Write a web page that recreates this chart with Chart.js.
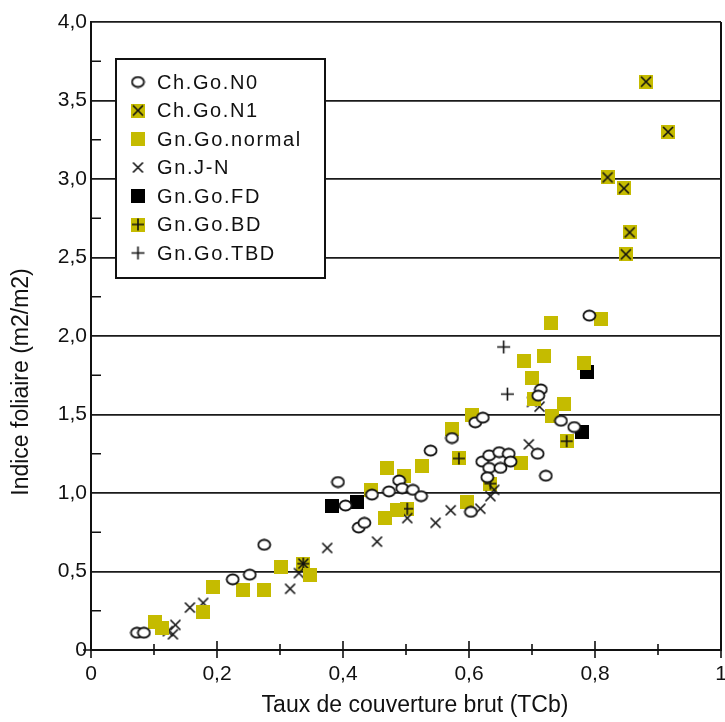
<!DOCTYPE html>
<html>
<head>
<meta charset="utf-8">
<script src="https://cdn.jsdelivr.net/npm/chart.js@4.4.0/dist/chart.umd.min.js"></script>
<style>
    html, body { margin: 0; padding: 0; background: #fff; }
</style>
</head>
<body>
<canvas id="chart" width="725" height="722"></canvas>
<script>
// Data: [TCb, indice foliaire]
const chGoN0 = [
    [0.073, 0.11], [0.084, 0.11],
    [0.225, 0.45], [0.252, 0.48], [0.275, 0.67],
    [0.392, 1.07], [0.404, 0.92], [0.425, 0.78], [0.434, 0.81],
    [0.446, 0.99], [0.473, 1.01], [0.489, 1.08], [0.494, 1.03], [0.511, 1.02], [0.524, 0.98],
    [0.539, 1.27], [0.573, 1.35], [0.610, 1.45], [0.622, 1.48], [0.603, 0.88],
    [0.621, 1.20], [0.632, 1.24], [0.648, 1.26], [0.663, 1.25], [0.632, 1.16],
    [0.650, 1.16], [0.666, 1.20], [0.629, 1.10],
    [0.709, 1.25], [0.722, 1.11], [0.714, 1.66], [0.710, 1.62],
    [0.746, 1.46], [0.767, 1.42], [0.791, 2.13]
];
const chGoN1 = [
    [0.881, 3.62], [0.916, 3.30], [0.820, 3.01], [0.846, 2.94], [0.855, 2.66], [0.849, 2.52]
];
const gnGoNormal = [
    [0.102, 0.18], [0.112, 0.14], [0.178, 0.24], [0.194, 0.40], [0.241, 0.38], [0.275, 0.38],
    [0.302, 0.53], [0.348, 0.48],
    [0.444, 1.02], [0.470, 1.16], [0.497, 1.11], [0.526, 1.17], [0.467, 0.84], [0.486, 0.89],
    [0.573, 1.41], [0.605, 1.50], [0.597, 0.94], [0.682, 1.19],
    [0.687, 1.84], [0.719, 1.87], [0.700, 1.73], [0.730, 2.08], [0.809, 2.11], [0.783, 1.83],
    [0.703, 1.60], [0.751, 1.57], [0.732, 1.49]
];
const gnJN = [
    [0.122, 0.12], [0.134, 0.16], [0.130, 0.10], [0.157, 0.27], [0.178, 0.30],
    [0.316, 0.39], [0.330, 0.49], [0.337, 0.55], [0.375, 0.65], [0.454, 0.69],
    [0.502, 0.84], [0.547, 0.81], [0.571, 0.89], [0.618, 0.90], [0.634, 0.98], [0.640, 1.02],
    [0.695, 1.31], [0.700, 1.58], [0.712, 1.55]
];
const gnGoFD = [[0.383, 0.92], [0.423, 0.94], [0.788, 1.77], [0.780, 1.39]];
const gnGoBD = [[0.337, 0.55], [0.502, 0.90], [0.584, 1.22], [0.634, 1.06], [0.755, 1.33]];
const gnGoTBD = [[0.655, 1.93], [0.661, 1.63]];

const seriesLabels = ['Ch.Go.N0', 'Ch.Go.N1', 'Gn.Go.normal', 'Gn.J-N', 'Gn.Go.FD', 'Gn.Go.BD', 'Gn.Go.TBD'];
const xTickLabels = ['0', '0,2', '0,4', '0,6', '0,8', '1'];
const yTickLabels = ['0', '0,5', '1,0', '1,5', '2,0', '2,5', '3,0', '3,5', '4,0'];
const xTitle = 'Taux de couverture brut (TCb)';
const yTitle = 'Indice foliaire (m2/m2)';

const YELLOW = '#c5bb00';
const INK = '#111';
const FONT = '"Liberation Sans", Arial, sans-serif';

// Marker glyphs drawn on small canvases
function symbol(w, h, draw) {
    const c = document.createElement('canvas');
    c.width = w;
    c.height = h;
    const g = c.getContext('2d');
    g.strokeStyle = INK;
    g.lineWidth = 1.6;
    draw(g, w, h);
    return c;
}
function cross(g, w, h, inset) {
    g.beginPath();
    g.moveTo(inset, inset); g.lineTo(w - inset, h - inset);
    g.moveTo(w - inset, inset); g.lineTo(inset, h - inset);
    g.stroke();
}
function plus(g, w, h, inset) {
    g.beginPath();
    g.moveTo(w / 2, inset); g.lineTo(w / 2, h - inset);
    g.moveTo(inset, h / 2); g.lineTo(w - inset, h / 2);
    g.stroke();
}

const symCircle = symbol(15, 13, (g, w, h) => {
    g.lineWidth = 1.8;
    g.beginPath();
    g.ellipse(w / 2, h / 2, 6, 5, 0, 0, Math.PI * 2);
    g.fillStyle = '#fff';
    g.fill();
    g.stroke();
});
const symN1 = symbol(14, 14, (g, w, h) => {
    g.fillStyle = YELLOW;
    g.fillRect(0, 0, w, h);
    cross(g, w, h, 2);
});
const symSquare = symbol(14, 14, (g, w, h) => {
    g.fillStyle = YELLOW;
    g.fillRect(0, 0, w, h);
});
const symX = symbol(13, 13, (g, w, h) => cross(g, w, h, 1.5));
const symBlack = symbol(14, 14, (g, w, h) => {
    g.fillStyle = '#000';
    g.fillRect(0, 0, w, h);
});
const symBD = symbol(14, 14, (g, w, h) => {
    g.fillStyle = YELLOW;
    g.fillRect(0, 0, w, h);
    plus(g, w, h, 1);
});
const symPlus = symbol(15, 15, (g, w, h) => plus(g, w, h, 1));

const seriesData = [chGoN0, chGoN1, gnGoNormal, gnJN, gnGoFD, gnGoBD, gnGoTBD];
const seriesSymbols = [symCircle, symN1, symSquare, symX, symBlack, symBD, symPlus];

const datasets = seriesData.map((pts, i) => ({
    label: seriesLabels[i],
    data: pts.map(p => ({ x: p[0], y: p[1] })),
    pointStyle: seriesSymbols[i],
    pointRadius: 7,
    pointHoverRadius: 7
}));

// Ticks crossing the x axis, inner minor ticks on y, axis titles and boxed legend
const decorations = {
    id: 'decorations',
    afterDraw(chart) {
        const { ctx, chartArea: a, scales: { x, y } } = chart;
        ctx.save();
        ctx.strokeStyle = INK;
        ctx.lineWidth = 1.6;
        ctx.beginPath();
        x.ticks.forEach((t, i) => {
            const px = x.getPixelForValue(t.value);
            const up = i % 2 === 0 ? 9 : 6;
            const down = i % 2 === 0 ? 8 : 5;
            ctx.moveTo(px, a.bottom - up);
            ctx.lineTo(px, a.bottom + down);
        });
        y.ticks.forEach((t, i) => {
            if (i % 2 === 1) {
                const py = y.getPixelForValue(t.value);
                ctx.moveTo(a.left, py);
                ctx.lineTo(a.left + 10, py);
            }
        });
        ctx.moveTo(a.left - 8, a.bottom);
        ctx.lineTo(a.left, a.bottom);
        ctx.stroke();

        // axis titles
        ctx.fillStyle = INK;
        ctx.font = '23px ' + FONT;
        ctx.textAlign = 'center';
        ctx.textBaseline = 'middle';
        ctx.fillText(xTitle, 415, 706);
        ctx.translate(22, 382);
        ctx.rotate(-Math.PI / 2);
        ctx.fillText(yTitle, 0, 0);
        ctx.restore();

        // legend box
        ctx.save();
        ctx.fillStyle = '#fff';
        ctx.fillRect(116, 59, 209, 219);
        ctx.strokeStyle = INK;
        ctx.lineWidth = 2;
        ctx.strokeRect(116, 59, 209, 219);
        ctx.fillStyle = INK;
        ctx.font = '20px ' + FONT;
        ctx.letterSpacing = '1.6px';
        ctx.textAlign = 'left';
        ctx.textBaseline = 'middle';
        chart.data.datasets.forEach((ds, i) => {
            const rowY = 82 + i * 28.5;
            const s = ds.pointStyle;
            ctx.drawImage(s, 138 - s.width / 2, rowY - s.height / 2);
            ctx.fillText(ds.label, 157, rowY + 1);
        });
        ctx.restore();
    }
};

new Chart(document.getElementById('chart'), {
    type: 'scatter',
    data: { datasets },
    options: {
        responsive: false,
        animation: false,
        layout: {
            autoPadding: false,
            padding: { top: 22, right: 4, bottom: 0, left: 0 }
        },
        plugins: {
            legend: { display: false },
            tooltip: { enabled: false }
        },
        scales: {
            x: {
                type: 'linear',
                min: 0,
                max: 1,
                ticks: {
                    stepSize: 0.1,
                    autoSkip: false,
                    maxRotation: 0,
                    padding: 0,
                    color: INK,
                    font: { family: FONT, size: 21 },
                    callback: (v, i) => (i % 2 === 0 ? xTickLabels[i / 2] : '')
                },
                grid: {
                    drawTicks: true,
                    tickLength: 12,
                    tickColor: 'rgba(0,0,0,0)',
                    lineWidth: 2,
                    color: c => (c.index === 10 ? INK : 'rgba(0,0,0,0)')
                },
                border: { color: INK, width: 2 },
                afterFit: s => {
                    s.height = 72;
                    s.paddingRight = 0;
                }
            },
            y: {
                min: 0,
                max: 4,
                ticks: {
                    stepSize: 0.25,
                    autoSkip: false,
                    padding: 4,
                    color: INK,
                    font: { family: FONT, size: 21 },
                    callback: (v, i) => (i % 2 === 0 ? yTickLabels[i / 2] : '')
                },
                grid: {
                    drawTicks: false,
                    lineWidth: 1.8,
                    color: c => (c.index % 2 === 0 ? '#1a1a1a' : 'rgba(0,0,0,0)')
                },
                border: { color: INK, width: 2 },
                afterFit: s => { s.width = 91; }
            }
        }
    },
    plugins: [decorations]
});
</script>
</body>
</html>
